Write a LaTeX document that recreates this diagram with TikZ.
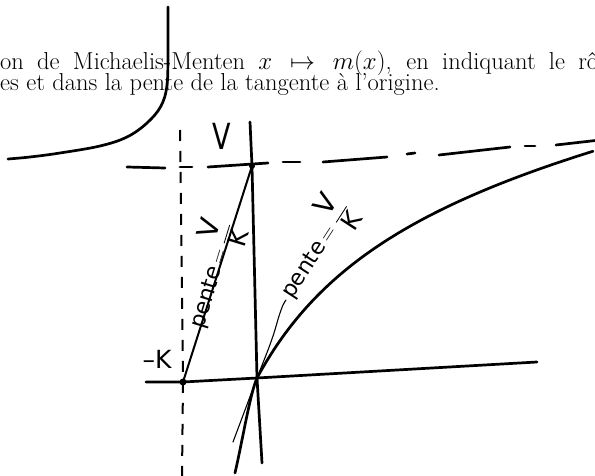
\documentclass[tikz,border=0pt]{standalone}
\usepackage{amsmath}
\usepackage{fontspec}
\newfontfamily\handfont{DejaVu Sans}
\newcommand\bigV{\text{\fontsize{28}{28}\selectfont V}}
\newcommand\bigK{\text{\fontsize{25}{25}\selectfont K}}
\begin{document}
\begin{tikzpicture}[x=1pt,y=-1pt,
  ink/.style={line width=2.7pt, line cap=round, line join=round},
  midink/.style={line width=2pt, line cap=round, line join=round},
  thinink/.style={line width=1.1pt, line cap=round, line join=round},
  dashv/.style={line width=2pt, dash pattern=on 11pt off 10pt},
  hand/.style={font=\handfont\fontsize{22}{22}\selectfont, inner sep=0pt},
  txt/.style={font=\fontsize{24.5}{21}\selectfont, inner sep=0pt, anchor=base west}]
\useasboundingbox (0,0) rectangle (595,476);
\clip (0,0) rectangle (595,476);

% printed text
\node[txt] (l1) at (0,70) {\makebox[598pt][s]{on de Michaelis-Menten $x\mapsto m(x)$, en indiquant le rô}};
\node[txt] (l2) at (0,91) {es et dans la pente de la tangente à l'origine.};

% key points
\coordinate (O) at (257,378);
\coordinate (mK) at (183,382);
\coordinate (V0) at (252,166);
\coordinate (xl) at (146,382);
\coordinate (xr) at (537,362);
\coordinate (yt) at (250,122);
\coordinate (yb) at (262,463);
\coordinate (dt) at (180,130);
\coordinate (db) at (182,476);

% hyperbola branch (upper left)
\draw[ink] plot[smooth, tension=0.6] coordinates {(168,7) (168,50) (167,85) (161,106) (147,123) (127,137) (100,146) (60,153) (30,157) (8,159)};

% horizontal asymptote (hand-drawn dashes)
\foreach \a/\b in {{(127,167)}/{(165,168)}, {(180,167)}/{(192,167)}, {(208,167)}/{(268,163)},
  {(283,162)}/{(300,162)}, {(323,162)}/{(387,157)}, {(407,154)}/{(415,153)},
  {(439,155)}/{(510,147)}, {(525,146)}/{(535,146)}, {(556,145)}/{(600,140)}}
  \draw[ink] \a -- \b;

% vertical dashed asymptote x = -K
\draw[dashv] (dt) -- (mK) -- (db);

% axes
\draw[ink] (xl) -- (mK) -- (O) -- (xr);
\draw[ink] (yt) -- (V0) -- (O) -- (yb);

% graph of m
\draw[ink] (235,473) .. controls (243,438) and (250,394) .. (O)
  -- plot[domain=0:336, samples=70] ({257+\x},{378-(2.55*\x/(1.5+0.01*\x)+0.15*\x)});

% tangent at the origin
\draw[thinink] plot[smooth] coordinates {(233,442) (245,410) (257,378) (268,350) (274,333) (279,316) (283,305) (286,300)};

% secant from (-K,0) to (0,V)
\draw[midink] (mK) -- (V0);
\fill (mK) circle (3.5);
\fill (V0) circle (3);

% handwritten labels
\node[hand] (Vlab) at (222,136) {\fontsize{36}{36}\selectfont\scalebox{0.75}[1]{V}};
\node[hand] (mKlab) at (157,359) {\fontsize{25}{25}\selectfont\textendash K};
\node[hand, rotate=73, anchor=base west] (p1) at (203,330) {pente$\,=\dfrac{\bigV}{\bigK}$};
\node[hand, rotate=57, anchor=base west] (p2) at (292,300) {pente$\,=\dfrac{\bigV}{\bigK}$};
\end{tikzpicture}
\end{document}
